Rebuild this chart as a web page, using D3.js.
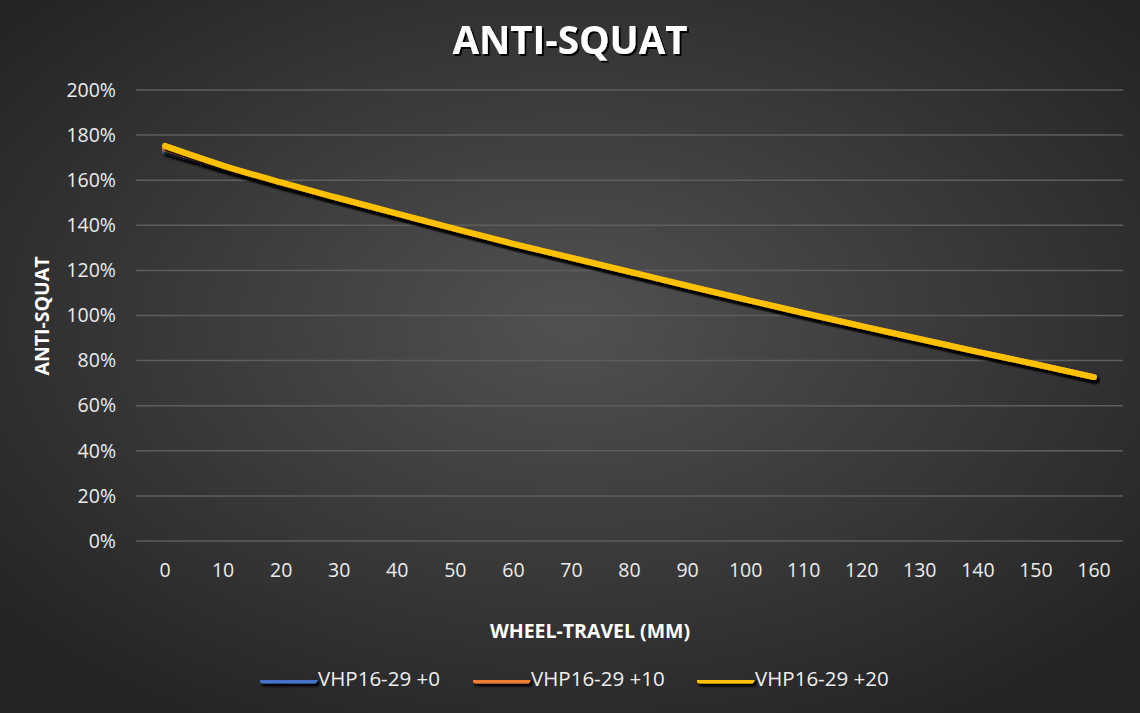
<!DOCTYPE html>
<html><head><meta charset="utf-8">
<script src="https://cdn.jsdelivr.net/npm/d3@7"></script>
<style>html,body{margin:0;padding:0;background:#333;}svg{display:block;}</style>
</head><body>
<svg id="chart" width="1140" height="713"></svg>
<script>
const categories = [0,10,20,30,40,50,60,70,80,90,100,110,120,130,140,150,160];
const seriesNames = ["VHP16-29 +0","VHP16-29 +10","VHP16-29 +20"];
const seriesColors = ["#4472C4","#ED7D31","#FFC000"];
const values0  = [1.73,1.655,1.583,1.515,1.448,1.381,1.315,1.253,1.191,1.129,1.068,1.009,0.951,0.894,0.837,0.782,0.725];
const values10 = [1.74,1.66,1.586,1.517,1.449,1.382,1.316,1.254,1.192,1.13,1.069,1.01,0.952,0.895,0.838,0.783,0.726];
const values20 = [1.752,1.665,1.59,1.52,1.452,1.384,1.318,1.256,1.194,1.132,1.071,1.011,0.953,0.896,0.839,0.784,0.727];
const yTicks = [0,0.2,0.4,0.6,0.8,1.0,1.2,1.4,1.6,1.8,2.0];

(function(){
const svg = d3.select("#chart");
const W = 1140, H = 713;
const defs = svg.append("defs");
const grad = defs.append("radialGradient").attr("id","bg").attr("cx","50%").attr("cy","45%").attr("r","65%");
grad.append("stop").attr("offset","0%").attr("stop-color","#515151");
grad.append("stop").attr("offset","100%").attr("stop-color","#242424");
svg.append("rect").attr("width",W).attr("height",H).attr("fill","url(#bg)");
const sh = defs.append("filter").attr("id","shadow").attr("filterUnits","userSpaceOnUse")
  .attr("x",0).attr("y",0).attr("width",W).attr("height",H);
sh.append("feDropShadow").attr("dx",2).attr("dy",3).attr("stdDeviation",1.2).attr("flood-color","#000").attr("flood-opacity",1);
const tsh = defs.append("filter").attr("id","tshadow");
tsh.append("feDropShadow").attr("dx",2).attr("dy",2).attr("stdDeviation",0.6).attr("flood-color","#000").attr("flood-opacity",1);

const pLeft = 136, pRight = 1123, pTop = 90, pBottom = 541;
const x = d3.scaleBand().domain(categories).range([pLeft,pRight]);
const y = d3.scaleLinear().domain([0,2]).range([pBottom,pTop]);
const font = "'Open Sans', sans-serif";

svg.append("g").selectAll("line").data(yTicks).join("line")
  .attr("x1",pLeft).attr("x2",pRight)
  .attr("y1",d=>y(d)).attr("y2",d=>y(d))
  .attr("stroke","#5e5e5e").attr("stroke-width",1.5);

const yAxis = svg.append("g").attr("transform",`translate(${pLeft},0)`)
  .call(d3.axisLeft(y).tickValues(yTicks).tickFormat(d3.format(".0%")).tickSize(0).tickPadding(20));
yAxis.select(".domain").remove();
yAxis.selectAll("text").attr("fill","#ececec").style("font-family",font).style("font-size","19.5px");

const xAxis = svg.append("g").attr("transform",`translate(0,${pBottom})`)
  .call(d3.axisBottom(x).tickSize(0).tickPadding(22));
xAxis.select(".domain").remove();
xAxis.selectAll("text").attr("fill","#ececec").style("font-family",font).style("font-size","19.5px");

const line = d3.line().x((d,i)=>x(categories[i])+x.bandwidth()/2).y(d=>y(d)).curve(d3.curveMonotoneX);
[values0,values10,values20].forEach((vals,i)=>{
  svg.append("path").datum(vals).attr("d",line).attr("fill","none")
    .attr("stroke",seriesColors[i]).attr("stroke-width",6)
    .attr("stroke-linecap","round").attr("stroke-linejoin","round")
    .attr("filter","url(#shadow)");
});

svg.append("text").attr("x",570).attr("y",54).attr("text-anchor","middle")
  .attr("fill","#fff").attr("filter","url(#tshadow)")
  .style("font-family",font).style("font-weight","bold").style("font-size","38.5px").text("ANTI-SQUAT");
svg.append("text").attr("x",590).attr("y",638).attr("text-anchor","middle")
  .attr("fill","#fff").style("font-family",font).style("font-weight","bold").style("font-size","19.5px").text("WHEEL-TRAVEL (MM)");
svg.append("text").attr("transform","translate(49,316) rotate(-90)").attr("text-anchor","middle")
  .attr("fill","#fff").style("font-family",font).style("font-weight","bold").style("font-size","19.5px").text("ANTI-SQUAT");

const legX = [260,473,697];
const lg = svg.append("g").selectAll("g").data(seriesNames).join("g")
  .attr("transform",(d,i)=>`translate(${legX[i]},680)`);
lg.append("line").attr("x1",3).attr("x2",54).attr("y1",0).attr("y2",0)
  .attr("stroke",(d,i)=>seriesColors[i]).attr("stroke-width",7).attr("stroke-linecap","round")
  .attr("filter","url(#shadow)");
lg.append("text").attr("x",58).attr("y",6).attr("fill","#f0f0f0")
  .style("font-family",font).style("font-size","20.5px").text(d=>d);
})();
</script>
</body></html>
